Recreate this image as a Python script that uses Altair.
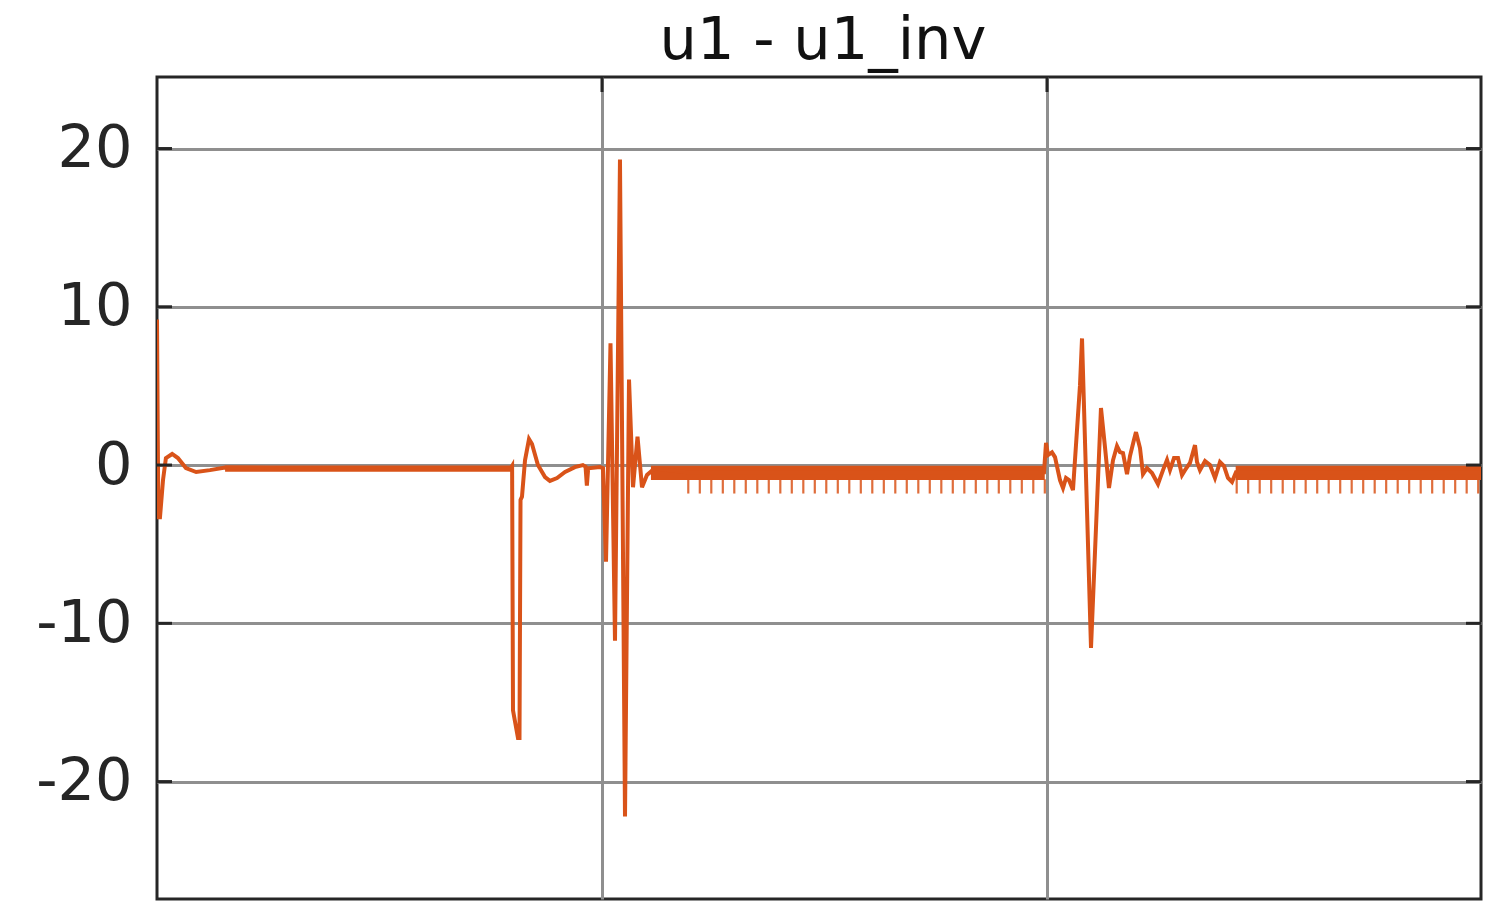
import altair as alt
import pandas as pd

TITLE = "u1 - u1_inv"
Y_TICKS = [-20, -10, 0, 10, 20]
X_GRID = [1, 2]
X_DOMAIN = [0, 2.9753]
Y_DOMAIN = [-27.42, 24.52]

# main signal (time, value)
sig_t = [0.000, 0.003, 0.0067, 0.0135, 0.020, 0.034, 0.047, 0.065, 0.088, 0.119,
         0.153, 0.30, 0.50, 0.70, 0.795, 0.798, 0.800, 0.8112, 0.8146, 0.8169,
         0.8202, 0.827, 0.836, 0.8427, 0.856, 0.872, 0.883, 0.899, 0.917, 0.939,
         0.957, 0.963, 0.966, 0.969, 0.9955, 1.0022, 1.009, 1.0191, 1.0292, 1.0404,
         1.0517, 1.0607, 1.0697, 1.0798, 1.0899, 1.1011, 1.119, 1.1416, 1.19, 1.60,
         1.9933, 1.9978, 2.0022, 2.0112, 2.018, 2.0292, 2.036, 2.0427, 2.0494, 2.0584,
         2.0674, 2.0742, 2.0787, 2.0989, 2.1213, 2.1303, 2.1393, 2.1483, 2.1573, 2.164,
         2.1708, 2.1798, 2.1865, 2.1955, 2.2, 2.209, 2.2157, 2.2247, 2.236, 2.2494,
         2.2607, 2.2697, 2.2764, 2.2854, 2.2944, 2.3034, 2.3101, 2.3213, 2.3326, 2.3371,
         2.3438, 2.3551, 2.3663, 2.3775, 2.3888, 2.3978, 2.4067, 2.4157, 2.4247, 2.70,
         2.993]
sig_v = [9.2, -3.3, -3.3, -0.95, 0.44, 0.7, 0.44, -0.19, -0.44, -0.32,
         -0.15, -0.2, -0.22, -0.22, -0.2, -0.06, -15.5, -17.25, -17.25, -2.2,
         -2.0, 0.3, 1.64, 1.33, 0.0, -0.76, -1.0, -0.82, -0.44, -0.13,
         0.0, -0.1, -1.3, -0.2, -0.13, -0.2, -6.1, 7.7, -11.1, 19.3,
         -22.2, 5.4, -1.4, 1.8, -1.4, -0.63, -0.2, -0.3, -0.45, -0.45,
         -0.45, 1.4, 0.63, 0.8, 0.5, -0.95, -1.45, -0.82, -0.95, -1.58,
         2.2, 5.05, 8.0, -11.55, 3.6, 1.14, -1.45, 0.3, 1.2, 0.82,
         0.76, -0.57, 0.57, 1.6, 2.08, 1.07, -0.57, -0.19, -0.5, -1.2,
         -0.32, 0.32, -0.32, 0.44, 0.44, -0.63, -0.32, 0.13, 1.26, 0.19,
         -0.32, 0.25, 0.0, -0.82, 0.19, -0.06, -0.82, -1.07, -0.45, -0.45,
         -0.45]

# envelope of the fast ripple (segment, time, upper, lower)
band_seg = ["a", "a", "b", "b", "c", "c"]
band_t = [0.153, 0.797, 1.11, 1.995, 2.424, 2.993]
band_hi = [-0.03, -0.03, -0.05, -0.05, -0.05, -0.05]
band_lo = [-0.42, -0.42, -0.95, -0.95, -0.95, -0.95]

# periodic downward ripple spikes
spike_t = [1.1939, 1.2198, 1.2456, 1.2715, 1.2973, 1.3231, 1.3490, 1.3748, 1.4007, 1.4265,
           1.4524, 1.4782, 1.5040, 1.5299, 1.5557, 1.5816, 1.6074, 1.6333, 1.6591, 1.6849,
           1.7108, 1.7366, 1.7625, 1.7883, 1.8142, 1.8400, 1.8658, 1.8917, 1.9175, 1.9434,
           1.9692, 1.9951,
           2.4263, 2.4521, 2.4780, 2.5038, 2.5297, 2.5555, 2.5813, 2.6072, 2.6330, 2.6589,
           2.6847, 2.7106, 2.7364, 2.7622, 2.7881, 2.8139, 2.8398, 2.8656, 2.8915, 2.9173,
           2.9431, 2.9690]
spike_top = -0.9
spike_bottom = -1.8

W, H = 1324, 822
ORANGE = "#D95319"
DARK = "#262626"
GRID = "#8f8f8f"
FONT = "DejaVu Sans"

xs = alt.Scale(domain=X_DOMAIN, nice=False, zero=False)
ys = alt.Scale(domain=Y_DOMAIN, nice=False, zero=False)
x_axis = alt.Axis(values=X_GRID, labels=False, ticks=False, domain=False, grid=True, title=None)
y_axis = alt.Axis(values=Y_TICKS, ticks=False, tickSize=0, domain=False, grid=True, title=None,
                  labelPadding=25, labelExpr="replace(datum.label, '\u2212', '-')")

sig = pd.DataFrame({"t": sig_t, "v": sig_v, "i": list(range(len(sig_t)))})
band = pd.DataFrame({"seg": band_seg, "t": band_t, "hi": band_hi, "lo": band_lo})
spikes = pd.DataFrame({"t": spike_t, "a": [spike_top] * len(spike_t), "b": [spike_bottom] * len(spike_t)})
yt = pd.DataFrame({"yv": Y_TICKS})
xt = pd.DataFrame({"xv": X_GRID})

band_layer = alt.Chart(band).mark_area(color=ORANGE, opacity=1, clip=True).encode(
    x=alt.X("t:Q", scale=xs, axis=x_axis),
    y=alt.Y("hi:Q", scale=ys, axis=y_axis),
    y2="lo:Q",
    detail="seg:N",
)

line_layer = alt.Chart(sig).mark_line(color=ORANGE, strokeWidth=4, clip=True).encode(
    x=alt.X("t:Q", scale=xs, axis=x_axis),
    y=alt.Y("v:Q", scale=ys, axis=y_axis),
    order="i:Q",
)

spike_layer = alt.Chart(spikes).mark_rule(color=ORANGE, strokeWidth=2.2, opacity=0.85, clip=True).encode(
    x=alt.X("t:Q", scale=xs, axis=x_axis),
    y=alt.Y("a:Q", scale=ys, axis=y_axis),
    y2="b:Q",
)

left_ticks = alt.Chart(yt).mark_rule(color=DARK, strokeWidth=3).encode(
    y=alt.Y("yv:Q", scale=ys, axis=y_axis),
    x=alt.value(0), x2=alt.value(15),
)
right_ticks = alt.Chart(yt).mark_rule(color=DARK, strokeWidth=3).encode(
    y=alt.Y("yv:Q", scale=ys, axis=y_axis),
    x=alt.value(W - 15), x2=alt.value(W),
)
top_ticks = alt.Chart(xt).mark_rule(color=DARK, strokeWidth=3).encode(
    x=alt.X("xv:Q", scale=xs, axis=x_axis),
    y=alt.value(0), y2=alt.value(15),
)

chart = alt.layer(band_layer, line_layer, spike_layer, left_ticks, right_ticks, top_ticks).properties(
    width=W,
    height=H,
    title=alt.TitleParams(TITLE, font=FONT, fontSize=59, fontWeight="normal", color="#111111",
                          anchor="middle", offset=-42, dx=4, baseline="alphabetic"),
    padding={"left": 149, "top": 69, "right": 2, "bottom": 3},
    autosize=alt.AutoSizeParams(type="none"),
).configure_view(
    stroke=DARK, strokeWidth=3
).configure_axis(
    labelFont=FONT, labelFontSize=59, labelColor=DARK,
    gridColor=GRID, gridWidth=3, gridOpacity=1,
)

chart.save("out.html", embed_options={"renderer": "svg", "actions": False})
